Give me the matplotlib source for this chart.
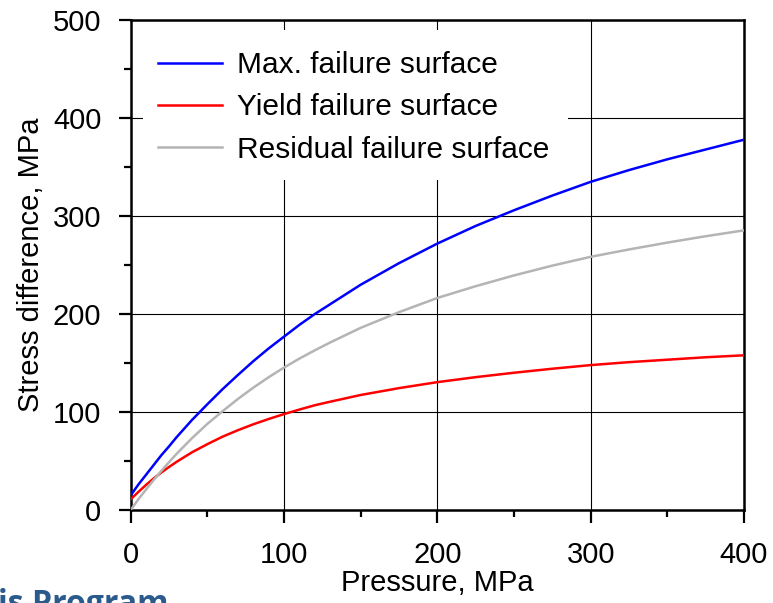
import matplotlib
matplotlib.use("Agg")
import matplotlib.pyplot as plt
from matplotlib.patches import Rectangle
from matplotlib.ticker import MultipleLocator

plt.rcParams['font.family'] = ['Liberation Sans', 'DejaVu Sans']

# values (pressure in MPa, stress difference in MPa)
pressure = [0, 5, 10, 15, 20, 25, 30, 40, 50, 60, 70, 80, 90, 100, 110, 120, 130,
            150, 175, 200, 225, 250, 275, 300, 325, 350, 375, 400]
max_surface = [15, 26, 36, 46, 56, 65, 74.5, 92, 108, 123.5, 138, 152, 165, 177, 189,
               200, 210, 230, 252, 272, 290, 306, 321, 335, 347, 358, 368, 378]
yield_surface = [11, 18.5, 25.7, 32.3, 38.4, 44, 49.3, 59, 67.3, 75, 81.6, 87.6, 93,
                 98, 102.6, 107, 110.6, 117.5, 124.5, 130.6, 135.7, 140.2, 144.3,
                 148, 151, 153.5, 156, 158]
residual_surface = [0, 11, 21, 30.7, 40, 48.9, 57.5, 73.4, 88, 101, 113.5, 125, 135.6,
                    145.5, 154.6, 163, 171, 186, 202, 216.5, 228.5, 239.5, 249.5,
                    258.5, 266, 273, 279.5, 285.5]

labels = ['Max. failure surface', 'Yield failure surface', 'Residual failure surface']
colors = ['#0000FF', '#FF0000', '#B4B4B4']

fig = plt.figure(figsize=(7.73, 6.03), dpi=100)
ax = fig.add_axes([0.169, 0.154, 0.7935, 0.8126])

for ys, lab, c in zip([max_surface, yield_surface, residual_surface], labels, colors):
    ax.plot(pressure, ys, color=c, lw=1.8, label=lab, zorder=4)

ax.set_xlim(0, 400)
ax.set_ylim(0, 500)
ax.xaxis.set_major_locator(MultipleLocator(100))
ax.xaxis.set_minor_locator(MultipleLocator(50))
ax.yaxis.set_major_locator(MultipleLocator(100))
ax.yaxis.set_minor_locator(MultipleLocator(50))
ax.tick_params(which='major', direction='out', length=9, width=1.6, labelsize=21)
ax.tick_params(which='minor', direction='out', length=5, width=1.6)
ax.tick_params(axis='x', which='major', pad=13)
ax.tick_params(axis='y', which='major', pad=12)
for s in ax.spines.values():
    s.set_linewidth(1.8)
ax.grid(True, which='major', color='black', lw=0.8, zorder=1)
ax.set_axisbelow(True)

# white box behind the legend hides the grid
ax.add_patch(Rectangle((0.02, 0.673), 0.693, 0.307, transform=ax.transAxes,
                       facecolor='white', edgecolor='none', zorder=2))
ax.legend(loc='upper left', bbox_to_anchor=(0.0445, 0.937), frameon=False,
          fontsize=21.5, handlelength=2.15, handletextpad=0.5, labelspacing=0.48,
          borderpad=0, borderaxespad=0)

ax.set_xlabel('Pressure, MPa', fontsize=21, labelpad=0)
ax.set_ylabel('Stress difference, MPa', fontsize=21, labelpad=6)

fig.text(-0.003, 1 - 588 / 603, 'is Program', fontsize=23, fontweight='bold',
         family=['Open Sans', 'DejaVu Sans'], color='#2B5A8C', va='top', ha='left')

fig.savefig('out.png', dpi=100)
